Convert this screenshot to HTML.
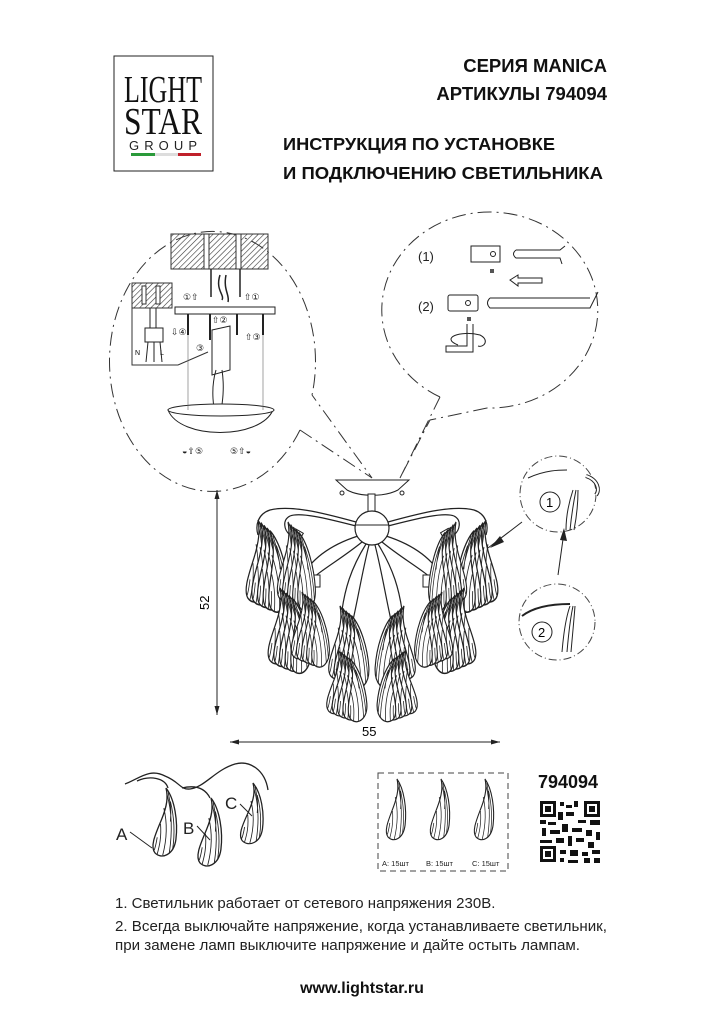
<!DOCTYPE html>
<html><head><meta charset="utf-8"><style>
html,body{margin:0;padding:0;background:#fff;}
body{width:724px;height:1024px;position:relative;overflow:hidden;font-family:"Liberation Sans","DejaVu Sans",sans-serif;}
svg{position:absolute;left:0;top:0;}
</style></head><body>
<svg width="724" height="1024" viewBox="0 0 724 1024" xmlns="http://www.w3.org/2000/svg">
<defs>
<pattern id="hatch" width="4" height="4" patternUnits="userSpaceOnUse" patternTransform="rotate(45)"><line x1="0" y1="0" x2="0" y2="4" stroke="#333" stroke-width="1.2"/></pattern>
<g id="petal">
<path d="M0,0 C8,10 11,30 9,46 C7,60 -4,64 -10,58 C-15,52 -9,40 -4,28 C1,16 2,8 0,0Z" fill="#fff" stroke="#222" stroke-width="1.2"/>
<path d="M1,6 C5,20 6,38 3,58 M-2,18 C1,30 1,45 -3,60 M4,12 C8,28 8,42 6,55 M-5,32 C-4,44 -6,52 -8,59 M2,4 C4,14 5,20 4,30 M-8,44 C-9,50 -10,54 -11,56" fill="none" stroke="#222" stroke-width="0.8"/>
</g>
<g id="cluster">
<use href="#petal"/>
<use href="#petal" transform="translate(3,2) rotate(-3)"/>
<use href="#petal" transform="translate(6,4) rotate(-6)"/>
<use href="#petal" transform="translate(9,6) rotate(-9)"/>
<use href="#petal" transform="translate(12,8) rotate(-12)"/>
</g>
</defs>

<!-- Logo -->
<rect x="114" y="56" width="99" height="115" fill="#fff" stroke="#222" stroke-width="1"/>
<text x="163" y="102" font-family="Liberation Serif,serif" font-size="38" text-anchor="middle" textLength="78" lengthAdjust="spacingAndGlyphs" fill="#111">LIGHT</text>
<text x="163" y="134" font-family="Liberation Serif,serif" font-size="38" text-anchor="middle" textLength="78" lengthAdjust="spacingAndGlyphs" fill="#111">STAR</text>
<text x="163" y="150" font-size="13" text-anchor="middle" textLength="68" lengthAdjust="spacing" fill="#222">GROUP</text>
<rect x="131" y="153" width="24" height="3" fill="#2a9a3a"/><rect x="155" y="153" width="23" height="3" fill="#ddd"/><rect x="178" y="153" width="23" height="3" fill="#c0202a"/>

<!-- Header -->
<g font-weight="bold" fill="#111">
<text x="607" y="72" font-size="18.5" text-anchor="end">СЕРИЯ MANICA</text>
<text x="607" y="100" font-size="18.5" text-anchor="end">АРТИКУЛЫ 794094</text>
<text x="283" y="150" font-size="17.8" textLength="272" lengthAdjust="spacingAndGlyphs">ИНСТРУКЦИЯ ПО УСТАНОВКЕ</text>
<text x="283" y="179" font-size="17.8" textLength="320" lengthAdjust="spacingAndGlyphs">И ПОДКЛЮЧЕНИЮ СВЕТИЛЬНИКА</text>
</g>

<!-- Left callout -->
<g fill="none" stroke="#333" stroke-width="1" stroke-dasharray="14,5,2,5">
<path d="M300,430 A103,130 0 1 1 312,395"/>
<path d="M300,430 L372,478 L312,395"/>
</g>
<rect x="171" y="234" width="97" height="35" fill="url(#hatch)" stroke="#333"/>
<rect x="204" y="234" width="5" height="35" fill="#fff" stroke="#333"/>
<rect x="236" y="234" width="5" height="35" fill="#fff" stroke="#333"/>
<rect x="132" y="283" width="40" height="25" fill="url(#hatch)" stroke="#333"/>
<rect x="142" y="286" width="4" height="18" fill="#fff" stroke="#333"/><rect x="156" y="286" width="4" height="18" fill="#fff" stroke="#333"/>
<path d="M132,283 V365 H178 L208,352" fill="none" stroke="#333"/>
<rect x="145" y="328" width="18" height="14" fill="#fff" stroke="#222"/>
<path d="M148,342 L146,362 M154,342 L154,362 M160,342 L162,362 M150,308 L150,328 M156,308 L156,328" stroke="#222" fill="none"/>
<text x="135" y="355" font-size="7">N</text><text x="160" y="355" font-size="7">L</text>
<rect x="175" y="307" width="100" height="7" fill="#fff" stroke="#222"/>
<path d="M188,314 V335 M263,314 V335 M210,314 V340 M237,314 V335" stroke="#222" stroke-width="2"/>
<path d="M211,269 V297 M240,269 V297 M220,275 C215,290 225,295 222,300 M226,275 C223,290 230,295 228,302" stroke="#222" fill="none" stroke-width="1.5"/>
<path d="M212,330 L230,326 L230,370 L212,375Z" fill="#fff" stroke="#222"/>
<path d="M216,370 C210,390 214,410 216,418 M222,370 C225,390 222,405 220,418" stroke="#222" fill="none"/>
<path d="M168,410 C180,440 260,440 273,410 Z" fill="#fff" stroke="#222"/>
<ellipse cx="221" cy="410" rx="53" ry="6" fill="#fff" stroke="#222"/>
<path d="M188,335 V410 M263,335 V410" stroke="#666" stroke-width="0.6"/>
<g font-size="9" fill="#222">
<text x="183" y="300">①⇧</text><text x="244" y="300">⇧①</text>
<text x="171" y="335">⇩④</text><text x="212" y="323">⇧②</text>
<text x="196" y="351">③</text><text x="245" y="340">⇧③</text>
<text x="182" y="454">◒⇧⑤</text><text x="230" y="454">⑤⇧◒</text>
</g>

<!-- Right callout -->
<g fill="none" stroke="#333" stroke-width="1" stroke-dasharray="14,5,2,5">
<path d="M440,397 A108,98 0 1 1 487,408"/>
<path d="M440,397 L400,478 M487,408 L430,420 L400,478"/>
</g>
<text x="418" y="261" font-size="13" fill="#222">(1)</text>
<text x="418" y="311" font-size="13" fill="#222">(2)</text>
<rect x="471" y="246" width="29" height="16" fill="#fff" stroke="#222"/><circle cx="493" cy="254" r="2.5" fill="none" stroke="#222"/>
<path d="M516,250 H560 L565,246 M516,250 Q511,254 516,258 H560 L562,264" fill="none" stroke="#222"/>
<rect x="490" y="269" width="4" height="4" fill="#555"/>
<path d="M510,280 L518,275 V278 H542 V283 H518 V286Z" fill="#fff" stroke="#222"/>
<rect x="448" y="295" width="30" height="16" fill="#fff" stroke="#222" rx="2"/><circle cx="468" cy="303" r="2.5" fill="none" stroke="#222"/>
<path d="M490,298 H590 M490,298 Q485,303 490,308 H590 L598,292" fill="none" stroke="#222"/>
<rect x="467" y="317" width="4" height="4" fill="#555"/>
<path d="M467,324 V346 H446 V352 H473 V324" fill="#fff" stroke="#222"/>
<path d="M458,345 C440,338 460,330 480,335 C490,340 484,348 478,346" fill="none" stroke="#222"/>

<!-- Chandelier -->
<path d="M336,480 H409 L398,490 C385,497 360,497 347,490Z" fill="#fff" stroke="#222"/>
<circle cx="342" cy="493" r="2" fill="#fff" stroke="#222"/><circle cx="402" cy="493" r="2" fill="#fff" stroke="#222"/>
<rect x="368" y="494" width="7" height="20" fill="#fff" stroke="#222"/>
<g fill="none" stroke="#222" stroke-width="1.2">
<path d="M356,522 C320,512 290,505 270,510 C258,514 255,525 258,535"/>
<path d="M356,526 C325,518 300,512 290,516 C282,520 284,530 290,535"/>
<path d="M358,536 C330,545 310,560 300,580 C295,588 290,590 285,592"/>
<path d="M362,542 C340,560 320,570 305,585"/>
<path d="M366,544 C350,570 345,590 342,610"/>
<path d="M369,545 C360,580 355,620 345,650"/>
<path d="M388,522 C424,512 454,505 474,510 C486,514 489,525 486,535"/>
<path d="M388,526 C419,518 444,512 454,516 C462,520 460,530 454,535"/>
<path d="M386,536 C414,545 434,560 444,580 C449,588 454,590 459,592"/>
<path d="M382,542 C404,560 424,570 439,585"/>
<path d="M378,544 C394,570 399,590 402,610"/>
<path d="M375,545 C384,580 389,620 399,650"/>
</g>
<circle cx="372" cy="528" r="17" fill="#fff" stroke="#222" stroke-width="1.2"/>
<path d="M355,525 H389" stroke="#222"/>
<g>
<rect x="292" y="530" width="9" height="12" fill="#fff" stroke="#222" transform="rotate(30 296 536)"/>
<rect x="311" y="575" width="9" height="12" fill="#fff" stroke="#222"/>
<rect x="423" y="575" width="9" height="12" fill="#fff" stroke="#222"/>
<rect x="443" y="530" width="9" height="12" fill="#fff" stroke="#222" transform="rotate(-30 447 536)"/>
</g>
<use href="#cluster" transform="translate(258,520) scale(1.0,1.35)"/>
<use href="#cluster" transform="translate(288,522) scale(0.9,1.3)"/>
<use href="#cluster" transform="translate(280,588) scale(1.0,1.25)"/>
<use href="#cluster" transform="translate(302,592) scale(0.9,1.1)"/>
<use href="#cluster" transform="translate(340,606) scale(0.95,1.2)"/>
<use href="#cluster" transform="translate(338,650) scale(0.95,1.05)"/>
<use href="#cluster" transform="translate(486,520) scale(-1.0,1.35)"/>
<use href="#cluster" transform="translate(456,522) scale(-0.9,1.3)"/>
<use href="#cluster" transform="translate(464,588) scale(-1.0,1.25)"/>
<use href="#cluster" transform="translate(442,592) scale(-0.9,1.1)"/>
<use href="#cluster" transform="translate(404,606) scale(-0.95,1.2)"/>
<use href="#cluster" transform="translate(406,650) scale(-0.95,1.05)"/>

<!-- dimensions -->
<path d="M217,490 V715" stroke="#222"/><path d="M217,490 l-2.5,9 h5z M217,715 l-2.5,-9 h5z" fill="#222"/>
<text x="0" y="0" font-size="13" transform="translate(209,610) rotate(-90)">52</text>
<path d="M230,742 H500" stroke="#222"/><path d="M230,742 l9,-2.5 v5z M500,742 l-9,-2.5 v5z" fill="#222"/>
<text x="362" y="736" font-size="13">55</text>

<!-- detail circles -->
<g fill="none" stroke="#444" stroke-dasharray="8,3,1,3">
<circle cx="558" cy="494" r="38"/><circle cx="557" cy="622" r="38"/>
</g>
<path d="M528,478 C545,470 560,470 567,470" fill="none" stroke="#222"/>
<path d="M586,476 C598,480 600,490 596,495" fill="none" stroke="#222" stroke-width="4"/>
<path d="M586,476 C598,480 600,490 596,495" fill="none" stroke="#fff" stroke-width="2"/>
<circle cx="550" cy="502" r="10" fill="#fff" stroke="#222"/><text x="546" y="507" font-size="13">1</text>
<path d="M573,490 C568,505 566,520 566,530 M576,490 C573,505 571,520 570,530 M578,490 C578,505 576,520 574,530" stroke="#222" fill="none"/>
<path d="M522,616 C535,606 555,604 570,604" fill="none" stroke="#222" stroke-width="2"/>
<circle cx="542" cy="632" r="10" fill="#fff" stroke="#222"/><text x="538" y="637" font-size="13">2</text>
<path d="M570,606 C565,620 563,640 562,652 M573,606 C570,620 568,640 567,652 M575,606 C574,620 572,640 571,652" stroke="#222" fill="none"/>
<path d="M522,522 L488,548" stroke="#222"/><path d="M500,536 L490,548 L504,542Z" fill="#222"/>
<path d="M558,575 L564,532" stroke="#222"/><path d="M560,540 L564,528 L567,541Z" fill="#222"/>

<!-- ABC -->
<path d="M125,784 C140,778 150,768 165,776 C180,782 180,790 190,789 C205,787 215,770 235,764 C250,760 265,770 268,790" fill="none" stroke="#222" stroke-width="1.3"/>
<path d="M137,781 C150,775 165,778 168,788 M182,788 C195,785 205,788 210,798" fill="none" stroke="#222" stroke-width="1.3"/>
<use href="#petal" transform="translate(166,788) scale(1.1,1.12)"/>
<use href="#petal" transform="translate(211,798) scale(1.1,1.12)"/>
<use href="#petal" transform="translate(253,783) scale(1.05,1.0)"/>
<g font-size="17" fill="#222"><text x="116" y="840">A</text><text x="183" y="834">B</text><text x="225" y="809">C</text></g>
<path d="M130,832 L152,848 M197,826 L210,840 M240,804 L252,816" stroke="#222"/>

<!-- box -->
<rect x="378" y="773" width="130" height="98" fill="none" stroke="#444" stroke-dasharray="6,4"/>
<use href="#petal" transform="translate(397,779) scale(0.9,1.0)"/>
<use href="#petal" transform="translate(441,779) scale(0.9,1.0)"/>
<use href="#petal" transform="translate(485,779) scale(0.9,1.0)"/>
<g font-size="7.5" fill="#222"><text x="382" y="866">A: 15шт</text><text x="426" y="866">B: 15шт</text><text x="472" y="866">C: 15шт</text></g>
<text x="538" y="788" font-size="18" font-weight="bold" fill="#111">794094</text>

<!-- QR -->
<g fill="#111">
<rect x="540" y="801" width="16" height="16"/><rect x="543" y="804" width="10" height="10" fill="#fff"/><rect x="545" y="806" width="6" height="6"/>
<rect x="584" y="801" width="16" height="16"/><rect x="587" y="804" width="10" height="10" fill="#fff"/><rect x="589" y="806" width="6" height="6"/>
<rect x="540" y="846" width="16" height="16"/><rect x="543" y="849" width="10" height="10" fill="#fff"/><rect x="545" y="851" width="6" height="6"/>
<rect x="560" y="802" width="4" height="4"/><rect x="566" y="805" width="6" height="3"/><rect x="574" y="801" width="4" height="6"/>
<rect x="540" y="820" width="6" height="4"/><rect x="548" y="822" width="8" height="3"/><rect x="558" y="812" width="5" height="8"/><rect x="566" y="812" width="8" height="4"/>
<rect x="578" y="820" width="8" height="3"/><rect x="590" y="820" width="10" height="5"/><rect x="542" y="828" width="4" height="8"/><rect x="550" y="830" width="10" height="4"/>
<rect x="562" y="824" width="6" height="8"/><rect x="572" y="828" width="10" height="4"/><rect x="586" y="830" width="6" height="6"/><rect x="596" y="832" width="4" height="8"/>
<rect x="540" y="840" width="12" height="3"/><rect x="556" y="838" width="8" height="5"/><rect x="568" y="836" width="4" height="10"/><rect x="576" y="838" width="8" height="4"/>
<rect x="588" y="842" width="6" height="6"/><rect x="560" y="850" width="6" height="4"/><rect x="570" y="850" width="8" height="6"/><rect x="582" y="852" width="6" height="4"/>
<rect x="592" y="850" width="8" height="4"/><rect x="560" y="858" width="4" height="4"/><rect x="568" y="860" width="10" height="3"/><rect x="584" y="858" width="6" height="5"/><rect x="594" y="858" width="6" height="5"/>
</g>

<!-- notes -->
<g font-size="15" fill="#222">
<text x="115" y="908">1. Светильник работает от сетевого напряжения 230В.</text>
<text x="115" y="931" textLength="492" lengthAdjust="spacingAndGlyphs">2. Всегда выключайте напряжение, когда устанавливаете светильник,</text>
<text x="115" y="950" textLength="465" lengthAdjust="spacingAndGlyphs">при замене ламп выключите напряжение и дайте остыть лампам.</text>
</g>
<text x="362" y="993" font-size="16" font-weight="bold" text-anchor="middle" fill="#111">www.lightstar.ru</text>
</svg>
</body></html>
